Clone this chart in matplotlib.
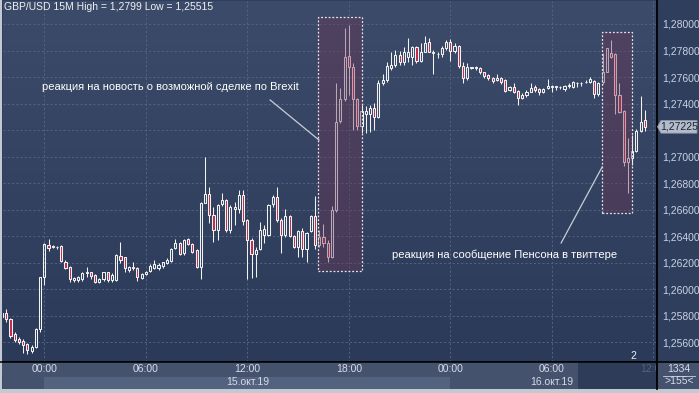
import numpy as np
import pandas as pd
import matplotlib
matplotlib.use("Agg")
import matplotlib.pyplot as plt
from matplotlib.colors import LinearSegmentedColormap
from matplotlib.patches import Rectangle, Polygon
from matplotlib.transforms import blended_transform_factory

plt.rcParams['font.family'] = ['Liberation Sans', 'DejaVu Sans']

# GBP/USD 15M candles, 14.10.19 21:30 ... 16.10.19 11:30
opens = [1.25793, 1.25823, 1.25773, 1.25665, 1.25625, 1.25610, 1.25585, 1.25534, 1.25567, 1.25700,
         1.26090, 1.26334, 1.26324, 1.26321, 1.26326, 1.26208, 1.26170, 1.26070, 1.26070, 1.26077,
         1.26123, 1.26128, 1.26107, 1.26052, 1.26077, 1.26128, 1.26070, 1.26070, 1.26253, 1.26241,
         1.26145, 1.26160, 1.26162, 1.26087, 1.26113, 1.26138, 1.26162, 1.26158, 1.26178, 1.26200,
         1.26215, 1.26309, 1.26351, 1.26271, 1.26377, 1.26341, 1.26296, 1.26170, 1.26653, 1.26718,
         1.26558, 1.26444, 1.26641, 1.26673, 1.26444, 1.26603, 1.26603, 1.26711, 1.26522, 1.26371,
         1.26266, 1.26301, 1.26409, 1.26409, 1.26641, 1.26693, 1.26522, 1.26409, 1.26552, 1.26402,
         1.26316, 1.26441, 1.26306, 1.26441, 1.26552, 1.26334, 1.26392, 1.26351, 1.26245, 1.26598,
         1.27269, 1.27435, 1.27761, 1.27674, 1.27435, 1.27231, 1.27319, 1.27319, 1.27369, 1.27301,
         1.27553, 1.27578, 1.27666, 1.27691, 1.27766, 1.27716, 1.27753, 1.27753, 1.27829, 1.27721,
         1.27791, 1.27862, 1.27779, 1.27772, 1.27772, 1.27821, 1.27862, 1.27796, 1.27836, 1.27686,
         1.27591, 1.27671, 1.27671, 1.27671, 1.27636, 1.27615, 1.27595, 1.27578, 1.27591, 1.27578,
         1.27502, 1.27527, 1.27495, 1.27444, 1.27465, 1.27490, 1.27527, 1.27510, 1.27490, 1.27515,
         1.27527, 1.27527, 1.27525, 1.27510, 1.27535, 1.27527, 1.27553, 1.27553, 1.27560, 1.27560,
         1.27570, 1.27470, 1.27560, 1.27640, 1.27779, 1.27772, 1.27465, 1.27344, 1.26957, 1.26987,
         1.27042, 1.27193, 1.27276]
highs = [1.25826, 1.25849, 1.25783, 1.25675, 1.25642, 1.25625, 1.25592, 1.25580, 1.25706, 1.26095,
         1.26347, 1.26379, 1.26334, 1.26328, 1.26330, 1.26221, 1.26178, 1.26095, 1.26100, 1.26132,
         1.26170, 1.26132, 1.26113, 1.26083, 1.26132, 1.26132, 1.26120, 1.26264, 1.26359, 1.26245,
         1.26178, 1.26203, 1.26168, 1.26125, 1.26135, 1.26188, 1.26218, 1.26196, 1.26208, 1.26233,
         1.26311, 1.26377, 1.26359, 1.26377, 1.26384, 1.26351, 1.26306, 1.26660, 1.26995, 1.26773,
         1.26622, 1.26640, 1.26728, 1.26680, 1.26635, 1.26660, 1.26748, 1.26748, 1.26530, 1.26384,
         1.26321, 1.26509, 1.26484, 1.26643, 1.26711, 1.26773, 1.26535, 1.26603, 1.26560, 1.26409,
         1.26447, 1.26460, 1.26434, 1.26560, 1.26703, 1.26447, 1.26490, 1.26371, 1.26630, 1.27553,
         1.27520, 1.27968, 1.27990, 1.27704, 1.27440, 1.27389, 1.27384, 1.27389, 1.27402, 1.27578,
         1.27621, 1.27716, 1.27787, 1.27804, 1.27796, 1.27829, 1.27892, 1.27836, 1.27836, 1.27854,
         1.27912, 1.27897, 1.27804, 1.27787, 1.27836, 1.27879, 1.27887, 1.27854, 1.27842, 1.27716,
         1.27704, 1.27678, 1.27686, 1.27678, 1.27640, 1.27621, 1.27603, 1.27621, 1.27603, 1.27585,
         1.27535, 1.27553, 1.27502, 1.27477, 1.27502, 1.27553, 1.27540, 1.27515, 1.27520, 1.27585,
         1.27540, 1.27535, 1.27533, 1.27540, 1.27553, 1.27570, 1.27565, 1.27560, 1.27578, 1.27603,
         1.27578, 1.27560, 1.27779, 1.27821, 1.27879, 1.27779, 1.27553, 1.27352, 1.27143, 1.27163,
         1.27208, 1.27459, 1.27352]
lows = [1.25776, 1.25755, 1.25635, 1.25605, 1.25585, 1.25517, 1.25515, 1.25520, 1.25555, 1.25675,
        1.26032, 1.26288, 1.26309, 1.26304, 1.26208, 1.26153, 1.26057, 1.26052, 1.26057, 1.26062,
        1.26095, 1.26077, 1.26047, 1.26045, 1.26062, 1.26052, 1.26057, 1.26062, 1.26196, 1.26132,
        1.26132, 1.26145, 1.26064, 1.26075, 1.26107, 1.26132, 1.26153, 1.26145, 1.26158, 1.26194,
        1.26205, 1.26301, 1.26258, 1.26258, 1.26334, 1.26276, 1.26162, 1.26075, 1.26648, 1.26497,
        1.26354, 1.26371, 1.26628, 1.26434, 1.26426, 1.26484, 1.26573, 1.26484, 1.26075, 1.26083,
        1.26095, 1.26296, 1.26347, 1.26402, 1.26622, 1.26509, 1.26276, 1.26396, 1.26392, 1.26309,
        1.26245, 1.26245, 1.26208, 1.26434, 1.26301, 1.26321, 1.26321, 1.26203, 1.26238, 1.26585,
        1.27251, 1.27419, 1.27465, 1.27201, 1.27201, 1.27176, 1.27176, 1.27183, 1.27201, 1.27289,
        1.27540, 1.27565, 1.27653, 1.27678, 1.27691, 1.27691, 1.27716, 1.27691, 1.27704, 1.27716,
        1.27787, 1.27787, 1.27621, 1.27741, 1.27753, 1.27804, 1.27721, 1.27779, 1.27671, 1.27553,
        1.27578, 1.27661, 1.27653, 1.27621, 1.27595, 1.27578, 1.27553, 1.27570, 1.27545, 1.27490,
        1.27495, 1.27477, 1.27389, 1.27435, 1.27452, 1.27485, 1.27490, 1.27465, 1.27477, 1.27510,
        1.27490, 1.27502, 1.27510, 1.27495, 1.27520, 1.27515, 1.27527, 1.27535, 1.27553, 1.27553,
        1.27444, 1.27459, 1.27545, 1.27636, 1.27741, 1.27319, 1.27327, 1.26932, 1.26723, 1.26937,
        1.27033, 1.27188, 1.27193]
closes = [1.25819, 1.25773, 1.25650, 1.25617, 1.25600, 1.25580, 1.25542, 1.25567, 1.25703, 1.26090,
          1.26339, 1.26309, 1.26321, 1.26316, 1.26213, 1.26162, 1.26075, 1.26087, 1.26090, 1.26120,
          1.26128, 1.26102, 1.26052, 1.26075, 1.26128, 1.26070, 1.26107, 1.26256, 1.26218, 1.26162,
          1.26170, 1.26165, 1.26090, 1.26115, 1.26130, 1.26173, 1.26190, 1.26183, 1.26203, 1.26221,
          1.26304, 1.26347, 1.26266, 1.26369, 1.26341, 1.26283, 1.26170, 1.26648, 1.26718, 1.26558,
          1.26444, 1.26635, 1.26673, 1.26444, 1.26622, 1.26622, 1.26711, 1.26512, 1.26369, 1.26266,
          1.26298, 1.26447, 1.26454, 1.26635, 1.26698, 1.26522, 1.26409, 1.26552, 1.26402, 1.26316,
          1.26441, 1.26306, 1.26426, 1.26552, 1.26334, 1.26392, 1.26351, 1.26241, 1.26598, 1.27263,
          1.27435, 1.27753, 1.27674, 1.27435, 1.27231, 1.27346, 1.27346, 1.27364, 1.27301, 1.27553,
          1.27578, 1.27686, 1.27691, 1.27766, 1.27716, 1.27791, 1.27791, 1.27829, 1.27721, 1.27787,
          1.27854, 1.27791, 1.27791, 1.27774, 1.27817, 1.27862, 1.27796, 1.27836, 1.27686, 1.27591,
          1.27678, 1.27674, 1.27674, 1.27636, 1.27610, 1.27591, 1.27570, 1.27595, 1.27565, 1.27495,
          1.27527, 1.27490, 1.27444, 1.27465, 1.27490, 1.27520, 1.27502, 1.27485, 1.27510, 1.27533,
          1.27530, 1.27530, 1.27527, 1.27535, 1.27538, 1.27560, 1.27555, 1.27555, 1.27563, 1.27585,
          1.27470, 1.27553, 1.27640, 1.27817, 1.27753, 1.27465, 1.27334, 1.26957, 1.26987, 1.27042,
          1.27193, 1.27263, 1.27225]

times = pd.date_range('2019-10-14 21:30', periods=len(closes), freq='15min')
price_ticks = [1.256, 1.258, 1.260, 1.262, 1.264, 1.266, 1.268, 1.270,
               1.272, 1.274, 1.276, 1.278, 1.280]
time_ticks = pd.date_range('2019-10-15 00:00', periods=7, freq='6h')
date_labels = ['15.окт.19', '16.окт.19']
date_pos = [pd.Timestamp('2019-10-15 12:00'), pd.Timestamp('2019-10-16 06:00')]

text1 = 'реакция на новость о возможной сделке по Brexit'
text2 = 'реакция на сообщение Пенсона в твиттере'

step = pd.Timedelta('15min')
t0 = pd.Timestamp('2019-10-15 00:00')
x = np.asarray((times - t0) / step)
o = np.array(opens); h = np.array(highs); l = np.array(lows); c = np.array(closes)

W, H = 699, 393
fig = plt.figure(figsize=(W / 100, H / 100), dpi=100)
fig.patch.set_facecolor('#2f3e5c')

XMIN, XMAX = -9.77, 144.87
YMIN, YMAX = 1.254516, 1.281734

ax = fig.add_axes([3 / W, (H - 362) / H, 654 / W, 361 / H])

# background gradient
bg = LinearSegmentedColormap.from_list('bg', ['#2b3a58', '#3c4b69'])
ax.imshow(np.linspace(0, 1, 200).reshape(-1, 1), cmap=bg, origin='lower',
          extent=[XMIN, XMAX, YMIN, YMAX], aspect='auto', zorder=0)

grid_col = '#54627e'
for p in price_ticks:
    ax.axhline(p, color=grid_col, lw=0.7, ls=(0, (2.2, 2.2)), zorder=1)
tick_x = np.asarray((time_ticks - t0) / step)
for tx in tick_x:
    ax.axvline(tx, color=grid_col, lw=0.7, ls=(0, (2.2, 2.2)), zorder=1)

# candles
top = np.maximum(o, c)
bot = np.minimum(o, c)
up = c >= o
ax.vlines(x, top, h, color='#f2f2f2', lw=0.75, zorder=3)
ax.vlines(x, l, bot, color='#f2f2f2', lw=0.75, zorder=3)
ax.bar(x[up], (top - bot)[up], bottom=bot[up], width=0.5,
       facecolor='none', edgecolor='#f2f2f2', lw=0.75, zorder=4)
ax.bar(x[~up], (top - bot)[~up], bottom=bot[~up], width=0.5,
       facecolor='#c02a4a', edgecolor='#f2f2f2', lw=0.75, zorder=4)

# highlight boxes
for (bx0, bx1, by0, by1) in [(64.8, 75.05, 1.26138, 1.28055), (131.8, 138.9, 1.26577, 1.27942)]:
    ax.add_patch(Rectangle((bx0, by0), bx1 - bx0, by1 - by0, facecolor='#6e3656',
                           alpha=0.4, edgecolor='none', zorder=5))
    ax.add_patch(Rectangle((bx0, by0), bx1 - bx0, by1 - by0, facecolor='none',
                           edgecolor='#e6e6ee', lw=0.9, ls=(0, (1.5, 1.5)), zorder=6))

# annotations
ax.plot([53.4, 64.95], [1.27427, 1.27125], color='#c9cdd8', lw=0.9, zorder=6)
ax.plot([122.2, 131.9], [1.26349, 1.26922], color='#c9cdd8', lw=0.9, zorder=6)
ax.text(-0.54, 1.27525, text1, color='white', fontsize=8, va='center', ha='left', zorder=7)
ax.text(82.2, 1.26258, text2, color='white', fontsize=8, va='center', ha='left', zorder=7)

ax.set_xlim(XMIN, XMAX)
ax.set_ylim(YMIN, YMAX)
ax.set_xticks([])
ax.yaxis.tick_right()
last = closes[-1]
# the label nearest to the last price is covered by the price marker
ax.set_yticks(price_ticks)
ax.set_yticklabels(['' if abs(p - last) < 0.0008 else f'{p:.5f}'.replace('.', ',')
                    for p in price_ticks])
ax.tick_params(axis='y', length=0, pad=4, labelsize=7.5, labelcolor='#c9d3e6')
for s in ['top', 'left']:
    ax.spines[s].set_visible(False)
ax.spines['right'].set_color('black')
ax.spines['right'].set_linewidth(1.3)
ax.spines['bottom'].set_color('black')
ax.spines['bottom'].set_linewidth(1.1)

# header
hdr = f'GBP/USD 15M High = {max(highs):.4f} Low = {min(lows):.5f}'.replace('.', ',')
fig.text(4 / W, 1 - 7.5 / H, hdr, color='#f0f0f0', fontsize=7.5, va='center', ha='left')

# last price marker
tr = blended_transform_factory(fig.transFigure, ax.transData)
hh = 0.00048
ax.add_patch(Polygon([(657.5 / W, last), (661 / W, last + hh), (697 / W, last + hh),
                      (697 / W, last - hh), (661 / W, last - hh)], closed=True,
                     transform=tr, facecolor='#b3bccb', edgecolor='#8c96a8', lw=0.6,
                     clip_on=False, zorder=8))
ax.text(679 / W, last, f'{last:.5f}'.replace('.', ','), transform=tr, fontsize=7.5,
        color='#1c2232', ha='center', va='center', clip_on=False, zorder=9)

# bottom time strip
axb = fig.add_axes([0, 4 / H, 657 / W, 27.5 / H])
axb.set_xlim(XMIN - 0.705, XMAX)
axb.set_ylim(0, 1)
axb.axis('off')
axb.add_patch(Rectangle((XMIN - 1, 0), XMAX - XMIN + 2, 1, facecolor='#44526e', edgecolor='none'))
axb.add_patch(Rectangle((XMIN - 1, 0), 1 - XMIN + XMIN, 0.44, facecolor='#3b4966', edgecolor='none'))
axb.add_patch(Rectangle((0, 0), 96, 0.44, facecolor='#53627e', edgecolor='none'))
axb.add_patch(Rectangle((126.2, 0), XMAX - 126.2, 1, facecolor='#2e3c5a', edgecolor='none'))
labels = [t.strftime('%H:%M') for t in time_ticks]
for tx, lab in zip(tick_x, labels):
    col = '#d6dce8' if tx < 126 else '#55637f'
    axb.text(tx, 0.71, lab, color=col, fontsize=7.5, ha='center', va='center', clip_on=True)
for dp, lab in zip(date_pos, date_labels):
    axb.text((dp - t0) / step, 0.27, lab, color='#d6dce8', fontsize=7.5, ha='center', va='center')

# right bottom cell
fig.patches.append(Rectangle((657 / W, 4 / H), 42 / W, 27.5 / H, transform=fig.transFigure,
                             facecolor='#44526e', edgecolor='none', zorder=0))
fig.lines.append(plt.Line2D([663 / W, 695 / W], [17.5 / H, 17.5 / H], transform=fig.transFigure,
                            color='#c9d3e6', lw=0.6))
fig.text(679 / W, 1 - 369.5 / H, '1334', color='#d6dce8', fontsize=7.5, ha='center', va='center')
fig.text(679 / W, 1 - 381.5 / H, '>155<', color='#d6dce8', fontsize=7.5, ha='center', va='center')
fig.lines.append(plt.Line2D([0, 1], [31 / H, 31 / H], transform=fig.transFigure, color='black', lw=1.1))
fig.lines.append(plt.Line2D([657 / W, 657 / W], [4 / H, 31 / H], transform=fig.transFigure,
                            color='black', lw=1.3))

# frame edges
fig.patches.append(Rectangle((0, 0), 1, 4 / H, transform=fig.transFigure,
                             facecolor='#c3c9d2', edgecolor='none'))
fig.patches.append(Rectangle((0, 0), 2 / W, 1, transform=fig.transFigure,
                             facecolor='#c3c9d2', edgecolor='none'))

fig.text(633 / W, 1 - 356 / H, '2', color='#f0f0f0', fontsize=7.5, ha='center', va='center')

fig.savefig('out.png', dpi=100, facecolor=fig.get_facecolor())
